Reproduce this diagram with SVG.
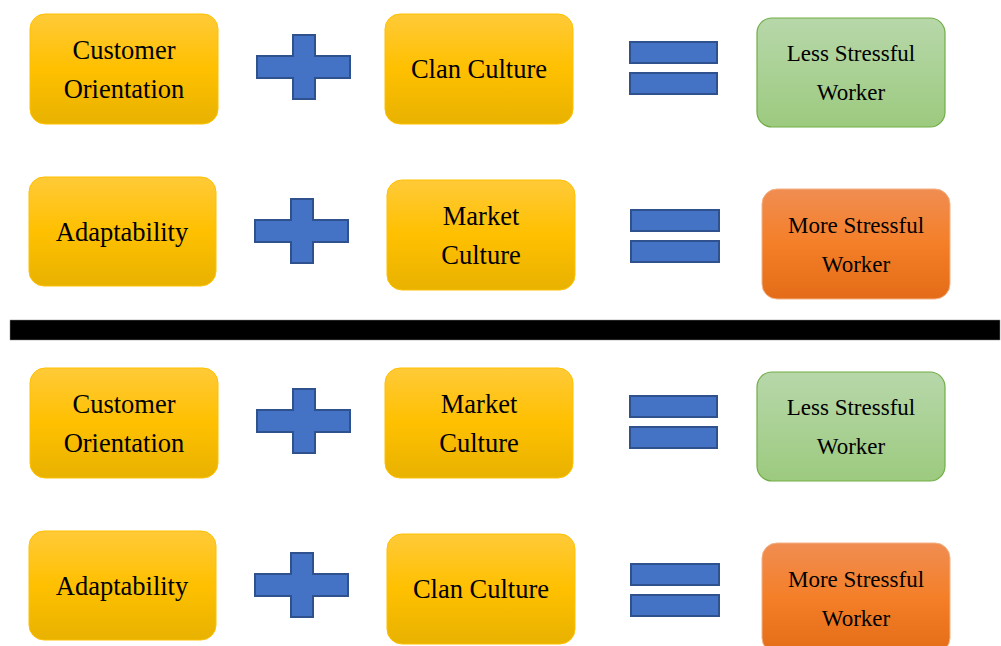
<svg xmlns="http://www.w3.org/2000/svg" width="1001" height="646" viewBox="0 0 1001 646">
<defs>
<linearGradient id="gold" x1="0" y1="0" x2="0" y2="1">
<stop offset="0" stop-color="#FFCA38"/><stop offset="0.5" stop-color="#FFC000"/><stop offset="1" stop-color="#E8B200"/>
</linearGradient>
<linearGradient id="green" x1="0" y1="0" x2="0" y2="1">
<stop offset="0" stop-color="#B7D7A9"/><stop offset="0.5" stop-color="#AAD195"/><stop offset="1" stop-color="#9CCA7E"/>
</linearGradient>
<linearGradient id="orange" x1="0" y1="0" x2="0" y2="1">
<stop offset="0" stop-color="#F08D52"/><stop offset="0.5" stop-color="#F47F28"/><stop offset="1" stop-color="#E46C18"/>
</linearGradient>
<path id="plus" d="M36 0H58V21H93V43H58V64H36V43H0V21H36Z"/>
</defs>
<style>
.g{fill:url(#gold);stroke:#FFC000;stroke-width:1}
.gr{fill:url(#green);stroke:#70AD47;stroke-width:1.2}
.o{fill:url(#orange);stroke:#F4B183;stroke-width:1}
.op{fill:#4472C4;stroke:#2F528F;stroke-width:2}
text{font-family:"Liberation Serif","DejaVu Serif",serif;fill:#000;text-anchor:middle}
.t{font-size:26.5px}
.s{font-size:23px}
</style>
<rect x="10" y="320" width="990" height="20" fill="#000" stroke="#888" stroke-width="0.5"/>
<g id="row1">
<g id="n1"><rect class="g" x="30" y="14" width="188" height="110" rx="15"/><text class="t" x="124" y="59">Customer</text><text class="t" x="124" y="98">Orientation</text></g>
<g id="p1"><use href="#plus" class="op" x="257" y="35"/></g>
<g id="n2"><rect class="g" x="385" y="14" width="188" height="110" rx="15"/><text class="t" x="479" y="78">Clan Culture</text></g>
<g id="e1"><rect class="op" x="630" y="42" width="87" height="21"/><rect class="op" x="630" y="73" width="87" height="21"/></g>
<g id="n3"><rect class="gr" x="757" y="18" width="188" height="109" rx="15"/><text class="s" x="851" y="61">Less Stressful</text><text class="s" x="851" y="100">Worker</text></g>
</g>
<g id="row2">
<g id="n4"><rect class="g" x="29" y="177" width="187" height="109" rx="15"/><text class="t" x="122" y="241">Adaptability</text></g>
<g id="p2"><use href="#plus" class="op" x="255" y="199"/></g>
<g id="n5"><rect class="g" x="387" y="180" width="188" height="110" rx="15"/><text class="t" x="481" y="225">Market</text><text class="t" x="481" y="264">Culture</text></g>
<g id="e2"><rect class="op" x="631" y="210" width="88" height="21"/><rect class="op" x="631" y="241" width="88" height="21"/></g>
<g id="n6"><rect class="o" x="762" y="189" width="188" height="110" rx="15"/><text class="s" x="856" y="233">More Stressful</text><text class="s" x="856" y="272">Worker</text></g>
</g>
<g id="row3">
<g id="n7"><rect class="g" x="30" y="368" width="188" height="110" rx="15"/><text class="t" x="124" y="413">Customer</text><text class="t" x="124" y="452">Orientation</text></g>
<g id="p3"><use href="#plus" class="op" x="257" y="389"/></g>
<g id="n8"><rect class="g" x="385" y="368" width="188" height="110" rx="15"/><text class="t" x="479" y="413">Market</text><text class="t" x="479" y="452">Culture</text></g>
<g id="e3"><rect class="op" x="630" y="396" width="87" height="21"/><rect class="op" x="630" y="427" width="87" height="21"/></g>
<g id="n9"><rect class="gr" x="757" y="372" width="188" height="109" rx="15"/><text class="s" x="851" y="415">Less Stressful</text><text class="s" x="851" y="454">Worker</text></g>
</g>
<g id="row4">
<g id="n10"><rect class="g" x="29" y="531" width="187" height="109" rx="15"/><text class="t" x="122" y="595">Adaptability</text></g>
<g id="p4"><use href="#plus" class="op" x="255" y="553"/></g>
<g id="n11"><rect class="g" x="387" y="534" width="188" height="110" rx="15"/><text class="t" x="481" y="598">Clan Culture</text></g>
<g id="e4"><rect class="op" x="631" y="564" width="88" height="21"/><rect class="op" x="631" y="595" width="88" height="21"/></g>
<g id="n12"><rect class="o" x="762" y="543" width="188" height="110" rx="15"/><text class="s" x="856" y="587">More Stressful</text><text class="s" x="856" y="626">Worker</text></g>
</g>
<g id="connectors"/>
</svg>
